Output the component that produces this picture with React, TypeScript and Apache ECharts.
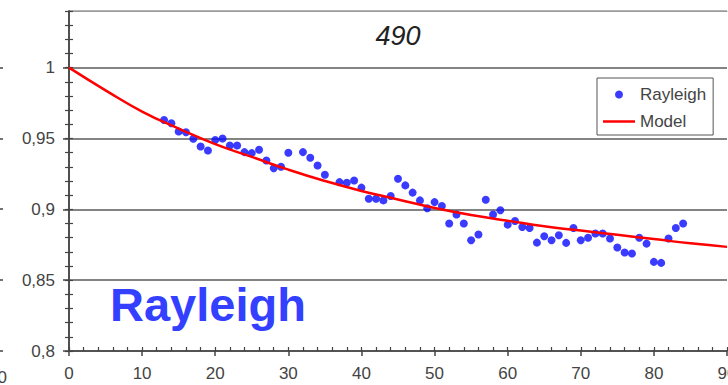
import React, { useEffect, useRef } from "react";
import * as echarts from "echarts";

// Measured points (Rayleigh)
const rayleighX = [13,14,15,16,17,18,19,20,21,22,23,24,25,26,27,28,29,30,32,33,34,35,37,38,39,40,41,42,43,44,45,46,47,48,49,50,51,52,53,54,55,56,57,58,59,60,61,62,63,64,65,66,67,68,69,70,71,72,73,74,75,76,77,78,79,80,81,82,83,84];
const rayleighY = [0.963,0.9608,0.955,0.9544,0.9498,0.9444,0.9415,0.949,0.95,0.945,0.945,0.9404,0.9397,0.942,0.9345,0.929,0.93,0.94,0.9404,0.9364,0.931,0.9244,0.9192,0.9188,0.9204,0.9153,0.9075,0.9075,0.9063,0.9094,0.9216,0.9169,0.9118,0.9063,0.9008,0.9051,0.9023,0.89,0.8963,0.89,0.8782,0.8822,0.9068,0.8963,0.8993,0.8892,0.8918,0.8875,0.8868,0.8765,0.881,0.8782,0.8817,0.8763,0.8868,0.8782,0.88,0.8829,0.8829,0.8794,0.873,0.8695,0.8688,0.88,0.8758,0.8629,0.8622,0.8794,0.8868,0.89];

// Model curve
const modelX = [0,5,10,15,20,25,30,35,40,45,50,55,60,65,70,75,80,85,90];
const modelY = [1.0,0.984,0.969,0.957,0.946,0.937,0.928,0.92,0.913,0.907,0.901,0.896,0.892,0.888,0.885,0.882,0.879,0.876,0.8735];

const titleText = "490";
const bigLabel = "Rayleigh";
const seriesNames = ["Rayleigh", "Model"];
const edgeTickY = [68, 139, 209, 280, 351];

const FONT = "'Liberation Sans', Arial, sans-serif";

export default function App() {
  const ref = useRef<HTMLDivElement>(null);
  useEffect(() => {
    if (!ref.current) return;
    const chart = echarts.init(ref.current, null, { renderer: "svg" });
    const fmt = (v: number) => {
      const r = Math.round(v * 100) / 100;
      return String(r).replace(".", ",");
    };
    const option: any = {
      animation: false,
      backgroundColor: "#ffffff",
      textStyle: { fontFamily: FONT },
      grid: { left: 69, right: 1, top: 11, bottom: 34, containLabel: false, outerBoundsMode: "none" },
      legend: {
        orient: "vertical",
        left: 597,
        top: 78,
        width: 118,
        padding: [8, 7, 5, 6],
        borderColor: "#555",
        borderWidth: 1,
        backgroundColor: "#fff",
        itemWidth: 32,
        itemHeight: 8,
        itemGap: 10,
        textStyle: { fontSize: 17, color: "#444", fontFamily: FONT },
        data: [
          { name: seriesNames[0], icon: "circle" },
          { name: seriesNames[1], icon: "path://M0,0H32V2.5H0Z", itemStyle: { color: "#ff0000" } },
        ],
      },
      xAxis: [
        {
          type: "value", min: 0, max: 90, interval: 10, position: "bottom",
          axisLine: { show: true, lineStyle: { color: "#444", width: 1.5 } },
          axisTick: { show: true, inside: false, length: 5, lineStyle: { color: "#444", width: 1.5 } },
          axisLabel: { fontSize: 17, color: "#444", margin: 14, fontFamily: FONT },
          splitLine: { show: false },
        },
        {
          type: "value", min: 0, max: 90, interval: 2, position: "bottom", gridIndex: 0,
          axisLine: { show: false },
          axisTick: { show: true, inside: true, length: 4, lineStyle: { color: "#444", width: 1.2 } },
          axisLabel: { show: false },
          splitLine: { show: false },
        },
        {
          type: "value", min: 0, max: 90, interval: 10, position: "top", gridIndex: 0,
          axisLine: { show: true, lineStyle: { color: "#9a9a9a", width: 1.2 } },
          axisTick: { show: false },
          axisLabel: { show: false },
          splitLine: { show: false },
        },
      ],
      yAxis: [
        {
          type: "value", min: 0.8, max: 1.04, interval: 0.05, position: "left",
          axisLine: { show: true, lineStyle: { color: "#444", width: 1.5 } },
          axisTick: { show: true, inside: false, length: 6, lineStyle: { color: "#444", width: 1.5 } },
          axisLabel: { fontSize: 17, color: "#444", margin: 14, fontFamily: FONT, showMaxLabel: false, formatter: fmt },
          splitLine: { show: true, lineStyle: { color: ["#5a5a5a", "#5a5a5a", "#5a5a5a", "#5a5a5a", "#5a5a5a", "#9a9a9a"], width: 1.5 } },
        },
        {
          type: "value", min: 0.8, max: 1.04, interval: 0.01, position: "left",
          axisLine: { show: false },
          axisTick: { show: true, inside: true, length: 4, lineStyle: { color: "#444", width: 1.2 } },
          axisLabel: { show: false },
          splitLine: { show: false },
        },
        {
          type: "value", min: 0.8, max: 1.04, interval: 0.01, position: "right",
          axisLine: { show: true, lineStyle: { color: "#444", width: 1.5 } },
          axisTick: { show: true, inside: true, length: 4, lineStyle: { color: "#444", width: 1.2 } },
          axisLabel: { show: false },
          splitLine: { show: false },
        },
      ],
      series: [
        {
          name: seriesNames[0],
          type: "scatter",
          xAxisIndex: 0,
          yAxisIndex: 0,
          symbol: "circle",
          symbolSize: 8,
          itemStyle: { color: "#0a0aff" },
          data: rayleighX.map((x, i) => [x, rayleighY[i]]),
          z: 3,
        },
        {
          name: seriesNames[1],
          type: "line",
          xAxisIndex: 0,
          yAxisIndex: 0,
          smooth: true,
          symbol: "none",
          showSymbol: false,
          lineStyle: { color: "#ff0000", width: 2.5 },
          itemStyle: { color: "#ff0000" },
          data: modelX.map((x, i) => [x, modelY[i]]),
          z: 4,
        },
      ],
      graphic: [
        {
          type: "text", x: 398, y: 36,
          style: { text: titleText, font: `italic 27px ${FONT}`, fill: "#222", align: "center", verticalAlign: "middle" },
          z: 10,
        },
        {
          type: "text", x: 110, y: 304,
          style: { text: bigLabel, font: `bold 47px ${FONT}`, fill: "#3340ff", align: "left", verticalAlign: "middle" },
          z: 10,
        },
        {
          type: "text", x: 7, y: 377,
          style: { text: "90", font: `17px ${FONT}`, fill: "#444", align: "right", verticalAlign: "middle" },
        },
        ...edgeTickY.map((y) => ({
          type: "line",
          shape: { x1: 0, y1: y, x2: 3, y2: y },
          style: { stroke: "#444", lineWidth: 1.5 },
        })),
      ],
    };
    chart.setOption(option);
    return () => chart.dispose();
  }, []);
  return (
    <div
      ref={ref}
      style={{ position: "absolute", left: 0, top: 0, width: 728, height: 385 }}
    />
  );
}
